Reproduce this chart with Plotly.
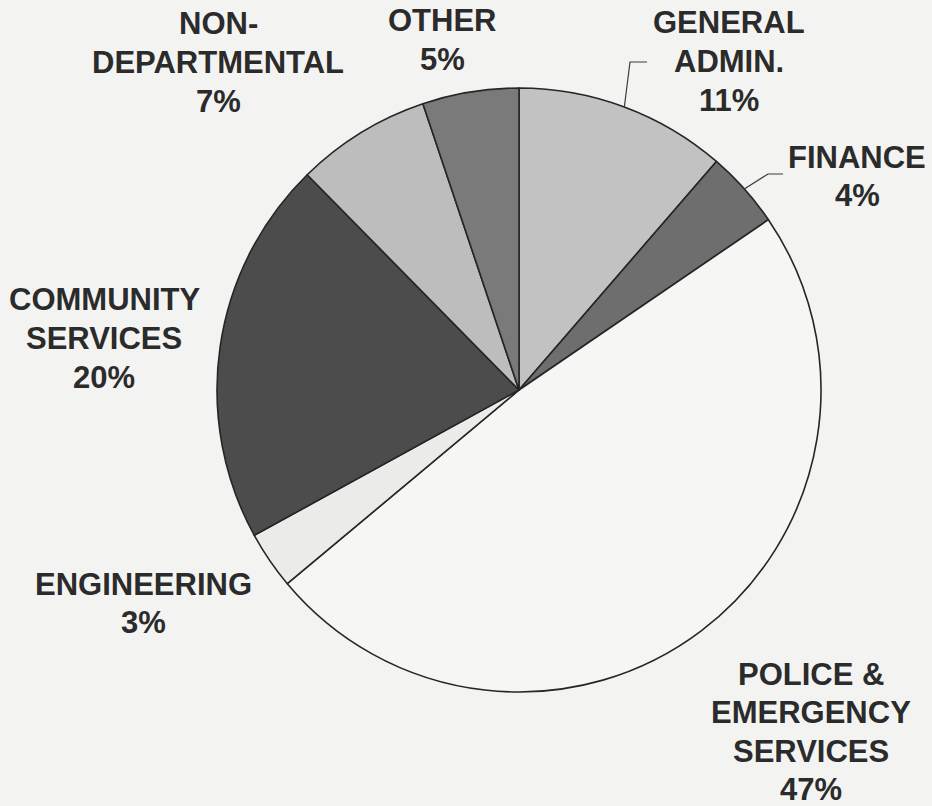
import math
import plotly.graph_objects as go

# ---- data ----
departments = ["GENERAL<br>ADMIN.", "FINANCE", "POLICE &<br>EMERGENCY<br>SERVICES",
               "ENGINEERING", "COMMUNITY<br>SERVICES", "NON-<br>DEPARTMENTAL", "OTHER"]
shares = [11, 4, 47, 3, 20, 7, 5]
slice_colors = ["#c2c2c2", "#6e6e6e", "#f6f6f5", "#ebebea", "#4c4c4c", "#bdbdbd", "#7a7a7a"]

# ---- layout constants (pixels in a 932x806 page) ----
W, H = 932, 806
CX, CY, R = 519, 390, 302
LINE_GAP = 38.5
# centre x and y of the first line for each label block
label_px = [(729, 23), (857, 157), (811, 674), (143, 584), (104, 300), (218, 24), (442, 21)]

def px(x):
    return x / W

def py(y):
    return 1 - y / H

fig = go.Figure(go.Pie(
    labels=[d.replace("<br>", " ") for d in departments],
    values=shares,
    sort=False,
    direction="clockwise",
    rotation=0,
    marker=dict(colors=slice_colors, line=dict(color="#262626", width=1.6)),
    textinfo="none",
    hoverinfo="label+percent",
    showlegend=False,
    domain=dict(x=[px(CX - R), px(CX + R)], y=[py(CY + R), py(CY - R)]),
))

for name, val, (lx, ly) in zip(departments, shares, label_px):
    lines = name.split("<br>") + [f"{val}%"]
    for k, line in enumerate(lines):
        fig.add_annotation(
            x=px(lx), y=py(ly + k * LINE_GAP), xref="paper", yref="paper",
            text=f"<b>{line}</b>", showarrow=False, align="center",
            xanchor="center", yanchor="middle",
            font=dict(family="Liberation Sans, Arial, sans-serif", size=31, color="#2b2b2b"),
        )

# leader lines for General Admin. and Finance, anchored at slice mid-angles on the rim
cum = 0
total = sum(shares)
mids = []
for v in shares:
    mids.append((cum + v / 2) / total * 2 * math.pi)
    cum += v

def rim(i):
    a = mids[i]
    return CX + R * math.sin(a), CY - R * math.cos(a)

leaders = [(0, (630, 62), (647, 62)), (1, (768, 174), (783, 174))]
for i, elbow, end in leaders:
    sx, sy = rim(i)
    fig.add_shape(type="path", xref="paper", yref="paper",
                  path=f"M {px(sx)} {py(sy)} L {px(elbow[0])} {py(elbow[1])} L {px(end[0])} {py(end[1])}",
                  line=dict(color="#3a3a3a", width=1.2))

fig.update_layout(
    width=W, height=H,
    margin=dict(l=0, r=0, t=0, b=0),
    paper_bgcolor="#f3f4f2",
    plot_bgcolor="#f3f4f2",
)

fig.write_html("out.html")
